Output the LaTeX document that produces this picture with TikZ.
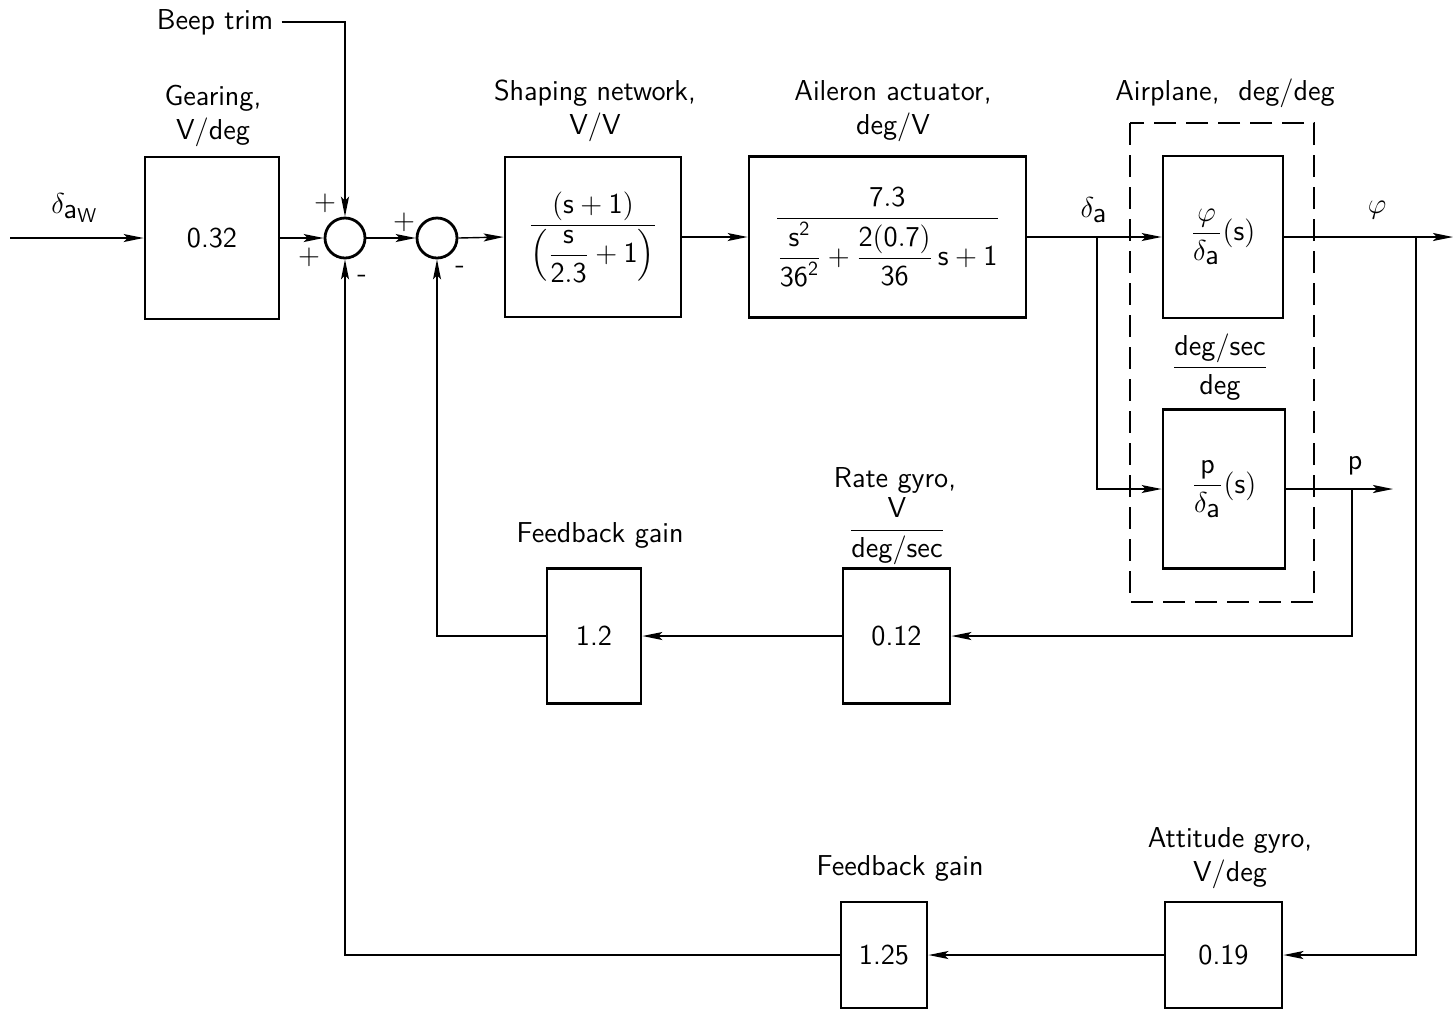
\documentclass[tikz,border=0pt]{standalone}
\usepackage{amsmath}
\usetikzlibrary{arrows.meta}
\renewcommand{\familydefault}{\sfdefault}
\begin{document}
\begin{tikzpicture}[x=0.5pt,y=-0.5pt,
  font=\fontsize{14.4}{17}\selectfont,
  block/.style={draw, line width=1.4pt, inner sep=0pt},
  sumj/.style={draw, circle, line width=1.4pt, minimum size=20pt, inner sep=0pt},
  lbl/.style={align=center, inner sep=0pt},
  sig/.style={line width=0.7pt},
  arr/.style={sig, -{Stealth[length=10pt,width=4pt,inset=2pt]}},
  ]
\useasboundingbox (0,0) rectangle (1454,1009);
% blocks
\node[block, minimum width=67pt, minimum height=81pt] (gear) at (212,238) {0.32};
\node[sumj] (s1) at (345,238) {};
\node[sumj] (s2) at (437,238) {};
\node[block, minimum width=88pt, minimum height=80pt] (shape) at (593,237)
  {$\dfrac{\mathsf{(s+1)}}{\left(\dfrac{\mathsf{s}}{\mathsf{2.3}}+\mathsf{1}\right)}$};
\node[block, minimum width=138.5pt, minimum height=80.5pt] (act) at (887.5,237)
  {$\dfrac{\mathsf{7.3}}{\dfrac{\mathsf{s}^{\mathsf{2}}}{\mathsf{36}^{\mathsf{2}}}+\dfrac{\mathsf{2(0.7)}}{\mathsf{36}}\,\mathsf{s}+\mathsf{1}}$};
\node[block, minimum width=60pt, minimum height=81pt] (phi) at (1223,237)
  {$\dfrac{\varphi}{\delta_{\textstyle\mathsf{a}}}(\mathsf{s})$};
\node[block, minimum width=61pt, minimum height=79.5pt] (pb) at (1224,489)
  {$\dfrac{\mathsf{p}}{\delta_{\textstyle\mathsf{a}}}(\mathsf{s})$};
\draw[line width=0.8pt, dash pattern=on 11pt off 5pt] (1130,123) rectangle (1314,602);
\node[block, minimum width=53.5pt, minimum height=67.5pt] (rate) at (896.5,636) {0.12};
\node[block, minimum width=47pt, minimum height=67.5pt] (fb1) at (594,636) {1.2};
\node[block, minimum width=58.5pt, minimum height=53pt] (att) at (1223.5,955) {0.19};
\node[block, minimum width=43pt, minimum height=53pt] (fb2) at (884,955) {1.25};
% labels
\node[lbl] (lgear) at (213,116) {Gearing,\\V/deg};
\node[lbl] (lshape) at (595,111) {Shaping network,\\V/V};
\node[lbl] (lact) at (893,111) {Aileron actuator,\\deg/V};
\node[lbl] (lair) at (1225,93) {Airplane,\ \ deg/deg};
\node[lbl] (lunit) at (1220,367) {$\dfrac{\text{deg/sec}}{\text{deg}}$};
\node[lbl] (lrate) at (895,480) {Rate gyro,};
\node[lbl] (lrateu) at (897,531) {$\dfrac{\text{V}}{\text{deg/sec}}$};
\node[lbl] (lfb1) at (600,535) {Feedback gain};
\node[lbl] (latt) at (1230,858) {Attitude gyro,\\V/deg};
\node[lbl] (lfb2) at (900,868) {Feedback gain};
\node[lbl] (beep) at (215,22) {Beep trim};
\node[lbl] (din) at (75,208) {$\delta_{\textstyle\mathsf{a}_{\mathsf{W}}}$};
\node[lbl] (da) at (1094,210) {$\delta_{\textstyle\mathsf{a}}$};
\node[lbl] (lphi) at (1377,210) {$\varphi$};
\node[lbl] (lp) at (1355,466) {p};
% signs
\node[lbl] (p1a) at (325,203) {+};
\node[lbl] (p1b) at (309,257) {+};
\node[lbl] (m1) at (362,279) {-};
\node[lbl] (p2a) at (404,222) {+};
\node[lbl] (m2) at (460,270) {-};
% connectors
\coordinate (in) at (10,238);
\draw[arr] (in) -- (gear.west);
\draw[arr] (gear.east) -- (s1.west);
\draw[arr] ([xshift=4pt]beep.east) -| (s1.north);
\draw[arr] (s1.east) -- (s2.west);
\draw[arr] (s2.east) -- (shape.west);
\draw[arr] (shape.east) -- (act.west);
\coordinate (br) at (1097,237);
\draw[sig] (act.east) -- (br);
\draw[arr] (br) -- (phi.west);
\draw[arr] (br) |- (pb.west);
\coordinate (phiend) at (1453,237);
\coordinate (br2) at (1416,237);
\draw[arr] (phi.east) -- (phiend);
\draw[arr] (br2) |- (att.east);
\coordinate (pend) at (1393,489);
\coordinate (br3) at (1352,489);
\draw[arr] (pb.east) -- (pend);
\draw[arr] (br3) |- (rate.east);
\draw[arr] (rate.west) -- (fb1.east);
\draw[arr] (fb1.west) -| (s2.south);
\draw[arr] (att.west) -- (fb2.east);
\draw[arr] (fb2.west) -| (s1.south);
\end{tikzpicture}
\end{document}
